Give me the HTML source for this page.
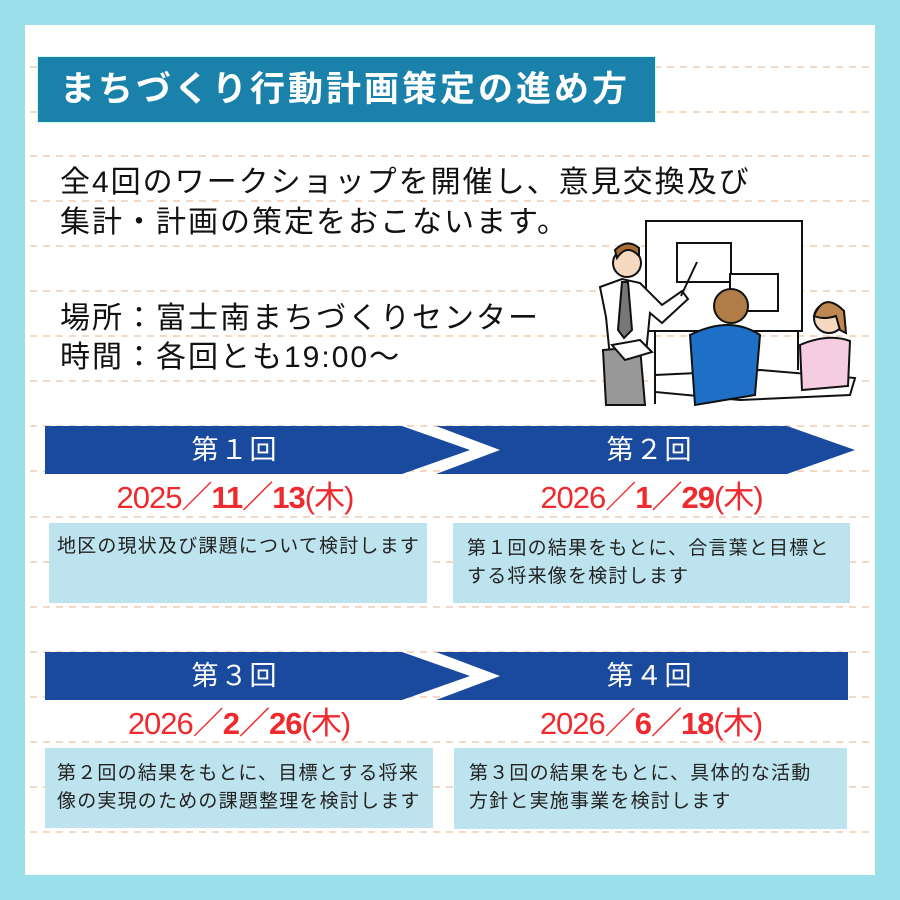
<!DOCTYPE html>
<html><head><meta charset="utf-8"><style>
*{margin:0;padding:0;box-sizing:border-box}
body{width:900px;height:900px;background:#9bdfea;position:relative;overflow:hidden;font-family:"Liberation Sans","Noto Sans CJK JP",sans-serif}
.panel{position:absolute;left:25px;top:25px;width:850px;height:850px;background:#fff}
.abs{position:absolute}
.title{left:37px;top:56px;width:619px;height:67px;background:#1a82aa;border:1px solid #cfe;color:#fff;font-weight:bold;font-size:35px;line-height:65px;padding-left:22px;letter-spacing:3px;white-space:nowrap}
.big{left:60px;font-size:30px;color:#111;line-height:40px;white-space:nowrap;letter-spacing:2px}
.lab{color:#fff;font-size:27px;text-align:center;line-height:48px;letter-spacing:2px}
.date{color:#ee2a2e;font-size:31px;text-align:center;line-height:40px;white-space:nowrap;letter-spacing:-1px}
.date b{font-weight:bold}
.box{background:#bde4ee;font-size:19px;color:#222;line-height:28px;padding:12px 8px 0 12px;white-space:nowrap;letter-spacing:1.2px}
</style></head><body>
<div class="panel"></div>
<svg class="abs" style="left:0;top:0" width="900" height="900">
<g stroke="#f1d9c6" stroke-width="2" stroke-dasharray="7 6">
<line x1="30" y1="67" x2="870" y2="67"/><line x1="30" y1="112" x2="870" y2="112"/>
<line x1="30" y1="156" x2="870" y2="156"/><line x1="30" y1="201" x2="870" y2="201"/>
<line x1="30" y1="246" x2="870" y2="246"/><line x1="30" y1="291" x2="870" y2="291"/>
<line x1="30" y1="336" x2="870" y2="336"/><line x1="30" y1="381" x2="870" y2="381"/>
<line x1="30" y1="426" x2="870" y2="426"/><line x1="30" y1="471" x2="870" y2="471"/>
<line x1="30" y1="517" x2="870" y2="517"/><line x1="30" y1="562" x2="870" y2="562"/>
<line x1="30" y1="607" x2="870" y2="607"/><line x1="30" y1="652" x2="870" y2="652"/>
<line x1="30" y1="697" x2="870" y2="697"/><line x1="30" y1="742" x2="870" y2="742"/>
<line x1="30" y1="787" x2="870" y2="787"/><line x1="30" y1="832" x2="870" y2="832"/>
</g>
<g fill="#1a4a9e">
<polygon points="45,426 402,426 470,450 402,474 45,474"/>
<polygon points="436,426 787,426 855,450 787,474 436,474 500,450"/>
<polygon points="45,652 402,652 470,676 402,700 45,700"/>
<polygon points="436,652 848,652 848,700 436,700 500,676"/>
</g>
<g stroke="#111" stroke-width="2" fill="#fff">
<rect x="646" y="221" width="156" height="110"/>
<line x1="655" y1="331" x2="655" y2="404"/><line x1="798" y1="331" x2="798" y2="370"/>
<rect x="677" y="243" width="54" height="39"/>
<rect x="730" y="274" width="48" height="37"/>
<polygon points="655,375 760,370 855,378 850,395 740,400 655,392" fill="#fff"/>
<circle cx="627" cy="263" r="14" fill="#f5d9c0"/>
<path d="M617 258 q10 -15 22 -2 l0 -8 q-12 -10 -24 2z" fill="#a86e3a"/>
<path d="M600 287 l22 -8 l18 4 l22 22 l20 -14 l6 8 l-26 24 l-12 -10 l-4 40 l-36 4 l-4 -40z" fill="#fff"/>
<polygon points="622,282 628,282 632,330 624,338 618,330" fill="#777"/>
<polygon points="603,350 640,347 645,405 606,405" fill="#999"/>
<polygon points="612,345 640,340 652,352 625,360" fill="#fff"/>
<line x1="681" y1="296" x2="697" y2="262"/>
<circle cx="731" cy="306" r="17" fill="#b07c47"/>
<path d="M690 335 q40 -20 70 0 l-5 60 l-60 10z" fill="#1e6fc6"/>
<circle cx="829" cy="318" r="15" fill="#f5d9c0"/>
<path d="M814 316 q10 -25 30 -5 l2 22 l-6 -3 l-4 -14 q-12 4 -22 0z" fill="#c08850"/>
<path d="M800 345 q28 -12 50 -4 l-2 45 l-46 4z" fill="#f6cde0"/>
</g>
</svg>
<div class="abs title">まちづくり行動計画策定の進め方</div>
<div class="abs big" style="top:163px">全4回のワークショップを開催し、意見交換及び</div>
<div class="abs big" style="top:203px">集計・計画の策定をおこないます。</div>
<div class="abs big" style="top:299px">場所：富士南まちづくりセンター</div>
<div class="abs big" style="top:338px">時間：各回とも19:00～</div>
<div class="abs lab" style="left:45px;top:426px;width:380px">第１回</div>
<div class="abs lab" style="left:465px;top:426px;width:370px">第２回</div>
<div class="abs lab" style="left:45px;top:652px;width:380px">第３回</div>
<div class="abs lab" style="left:465px;top:652px;width:370px">第４回</div>
<div class="abs date" style="left:45px;top:478px;width:380px">2025／<b>11／13</b>(木)</div>
<div class="abs date" style="left:453px;top:478px;width:397px">2026／<b>1／29</b>(木)</div>
<div class="abs date" style="left:45px;top:704px;width:388px">2026／<b>2／26</b>(木)</div>
<div class="abs date" style="left:455px;top:704px;width:392px">2026／<b>6／18</b>(木)</div>
<div class="abs box" style="left:49px;top:523px;width:378px;height:80px;padding-left:8px;padding-top:10px">地区の現状及び課題について検討します</div>
<div class="abs box" style="left:453px;top:523px;width:397px;height:80px;padding-left:14px">第１回の結果をもとに、合言葉と目標と<br>する将来像を検討します</div>
<div class="abs box" style="left:45px;top:748px;width:388px;height:80px">第２回の結果をもとに、目標とする将来<br>像の実現のための課題整理を検討します</div>
<div class="abs box" style="left:454px;top:748px;width:393px;height:81px;padding-left:15px">第３回の結果をもとに、具体的な活動<br>方針と実施事業を検討します</div>
</body></html>
